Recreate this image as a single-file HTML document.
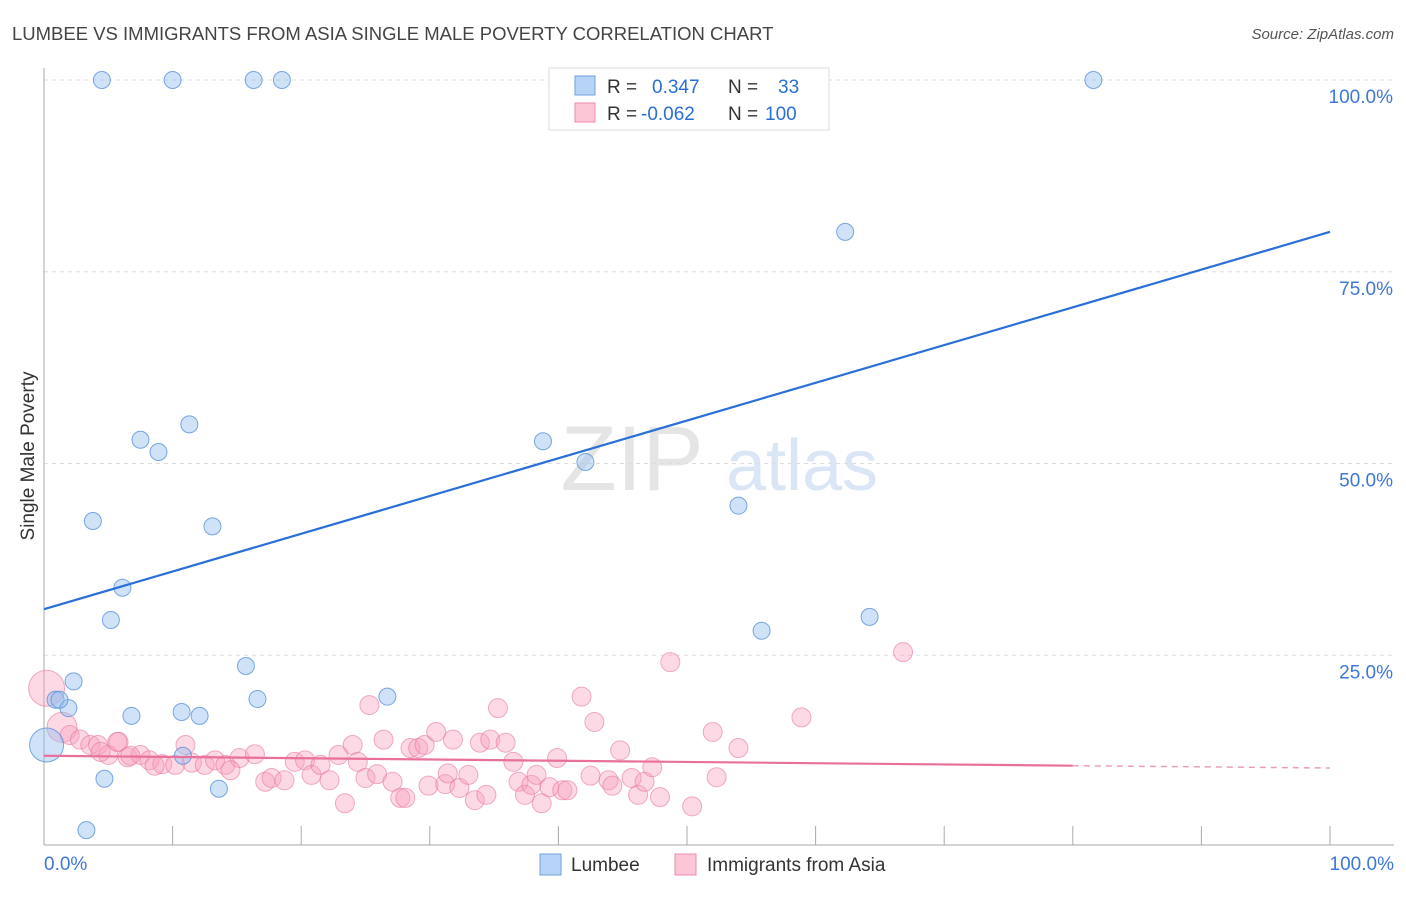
<!DOCTYPE html>
<html><head><meta charset="utf-8"><style>
body{margin:0;background:#fff;font-family:"Liberation Sans",sans-serif}
svg text{font-family:"Liberation Sans",sans-serif}
</style></head><body>
<svg width="1406" height="892" viewBox="0 0 1406 892">
<text x="12" y="40" font-size="18.5" fill="#444">LUMBEE VS IMMIGRANTS FROM ASIA SINGLE MALE POVERTY CORRELATION CHART</text>
<text x="1394" y="39" font-size="15" fill="#555" font-style="italic" text-anchor="end">Source: ZipAtlas.com</text>
<text transform="translate(34,456) rotate(-90)" font-size="19" fill="#333" text-anchor="middle">Single Male Poverty</text>
<g opacity="0.5">
<text x="632" y="490" font-size="92" fill="#ccc" font-family="Liberation Serif" text-anchor="middle">ZIP</text>
<text x="802" y="490" font-size="72" fill="#b6cdec" text-anchor="middle">atlas</text>
</g>
<g id="grid"></g>
<g id="axes"></g>
<g id="pts"></g>
<g id="lines"></g>
<g>
<rect x="549" y="68" width="280" height="62" fill="#fff" stroke="#ddd"/>
<rect x="575" y="76" width="20" height="19" fill="#b7d3f5" stroke="#6fa0dc"/>
<rect x="575" y="103" width="20" height="19" fill="#fcc6d7" stroke="#ee8aa8"/>
<text x="607" y="93" font-size="19" fill="#333">R = <tspan fill="#2a6fd6" x="652">0.347</tspan><tspan x="728" fill="#333">N =</tspan><tspan x="778" fill="#2a6fd6">33</tspan></text>
<text x="607" y="120" font-size="19" fill="#333">R = <tspan fill="#2a6fd6" x="641">-0.062</tspan><tspan x="728" fill="#333">N =</tspan><tspan x="765" fill="#2a6fd6">100</tspan></text>
</g>
<g>
<rect x="540" y="854" width="21" height="21" fill="#b7d3f5" stroke="#6fa0dc"/>
<text x="571" y="871" font-size="19" fill="#333">Lumbee</text>
<rect x="675" y="854" width="21" height="21" fill="#fcc6d7" stroke="#ee8aa8"/>
<text x="707" y="871" font-size="19" fill="#333">Immigrants from Asia</text>
</g>
</svg>
<script>
const yTicks=[25,50,75,100];
const yTickLabels=["25.0%","50.0%","75.0%","100.0%"];
const xTickLabels=["0.0%","100.0%"];
const lumbeeX=[4.5,10.0,16.3,18.5,81.6,62.3,7.5,11.3,8.9,38.8,42.1,54.0,3.8,13.1,6.1,5.2,55.8,64.2,15.7,2.3,0.9,1.9,16.6,26.7,6.8,10.7,12.1,10.8,4.7,13.6,3.3,0.2,1.2];
const lumbeeY=[100,100,100,100,100,80.2,53.1,55.1,51.5,52.9,50.2,44.5,42.5,41.8,33.8,29.6,28.2,30.0,23.6,21.6,19.2,18.1,19.3,19.6,17.1,17.6,17.1,11.9,8.9,7.6,2.2,13.3,19.2];
const asiaX=[0.2,1.4,2.0,2.8,3.6,4.2,5.0,5.8,6.5,7.5,8.2,9.2,10.2,11.0,11.5,12.5,13.3,14.1,15.2,16.4,17.2,17.7,18.7,19.5,20.3,20.8,21.5,22.2,22.9,23.4,24.0,24.4,25.0,25.3,25.9,26.4,27.1,27.7,28.1,28.5,29.1,29.6,29.9,30.5,31.2,31.4,31.8,32.3,33.0,33.5,33.9,34.4,34.7,35.3,35.9,36.5,36.9,37.4,37.9,38.3,38.7,39.3,39.9,40.3,40.7,41.8,42.5,42.8,43.9,44.2,44.8,45.7,46.2,46.7,47.3,47.9,48.7,50.4,52.0,52.3,54.0,58.9,66.8,5.7,6.7,4.4,8.6,14.5];
const asiaY=[20.7,15.6,14.6,14.0,13.3,13.3,12.0,13.7,11.7,12.0,11.3,10.8,10.7,13.3,11.0,10.7,11.3,10.7,11.6,12.1,8.5,9.0,8.7,11.1,11.3,9.4,10.7,8.7,12.0,5.7,13.3,11.1,9.0,18.5,9.5,14.0,8.5,6.4,6.4,12.9,12.9,13.3,8.0,15.0,8.2,9.6,14.0,7.7,9.4,6.1,13.6,6.8,14.0,18.1,13.6,11.1,8.5,6.8,8.1,9.4,5.7,7.8,11.6,7.4,7.4,19.6,9.3,16.3,8.7,8.0,12.6,9.0,6.8,8.5,10.4,6.5,24.1,5.3,15.0,9.1,12.9,16.9,25.4,13.7,11.9,12.4,10.6,10.0];
const lumbeeTrend=[31.0,80.2];
const asiaTrend=[11.9,10.6,10.3];
const X=v=>44+v*12.86, Y=v=>847-v*7.67;
const NS="http://www.w3.org/2000/svg";
function mk(tag,attrs,parent){const e=document.createElementNS(NS,tag);for(const k in attrs)e.setAttribute(k,attrs[k]);document.getElementById(parent).appendChild(e);return e;}
yTicks.forEach((t,i)=>{
 const g=mk('line',{x1:44,x2:1394,y1:Y(t),y2:Y(t),stroke:'#ddd','stroke-dasharray':'4,4'},'grid');
 
 
 const l=mk('text',{x:1393,y:Y(t)+23,'font-size':19,fill:'#3c78d8','text-anchor':'end'},'grid');
 l.textContent=yTickLabels[i];
 
 
});
const ax=mk('line',{x1:44,x2:1394,y1:845,y2:845,stroke:'#aaa'},'axes');


const ay=mk('line',{x1:44,x2:44,y1:68,y2:845,stroke:'#aaa'},'axes');


for(let i=0;i<=10;i++){
 const t=mk('line',{x1:X(i*10),x2:X(i*10),y1:826,y2:845,stroke:'#aaa'},'axes');
 
 
}
[[0,'start',44],[100,'end',1394]].forEach((a,i)=>{
 const l=mk('text',{x:a[2],y:870,'font-size':19,fill:'#3c78d8','text-anchor':a[1]},'axes');
 l.textContent=xTickLabels[i];
 
 
});
asiaX.forEach((x,i)=>{
 const r=i==0?18:(i==1?15:9.5);
 const c=mk('circle',{cx:X(x),cy:Y(asiaY[i]),r:r,fill:'rgba(247,160,188,0.4)',stroke:'rgba(232,120,160,0.6)'},'pts');
 
 
});
lumbeeX.forEach((x,i)=>{
 const r=i==31?17:8.5;
 const c=mk('circle',{cx:X(x),cy:Y(lumbeeY[i]),r:r,fill:'rgba(150,190,240,0.45)',stroke:'rgba(80,140,215,0.75)'},'pts');
 
 
});
const bl=mk('line',{x1:X(0),y1:Y(lumbeeTrend[0]),x2:X(100),y2:Y(lumbeeTrend[1]),stroke:'#2a6fd6','stroke-width':2.2},'lines');


const pl=mk('line',{x1:X(0),y1:Y(asiaTrend[0]),x2:X(80),y2:Y(asiaTrend[1]),stroke:'#e8709a','stroke-width':2.2},'lines');


const pd=mk('line',{x1:X(80),y1:Y(asiaTrend[1]),x2:X(100),y2:Y(asiaTrend[2]),stroke:'#e8a0b8','stroke-width':1.5,'stroke-dasharray':'6,5'},'lines');


</script>
</body></html>
